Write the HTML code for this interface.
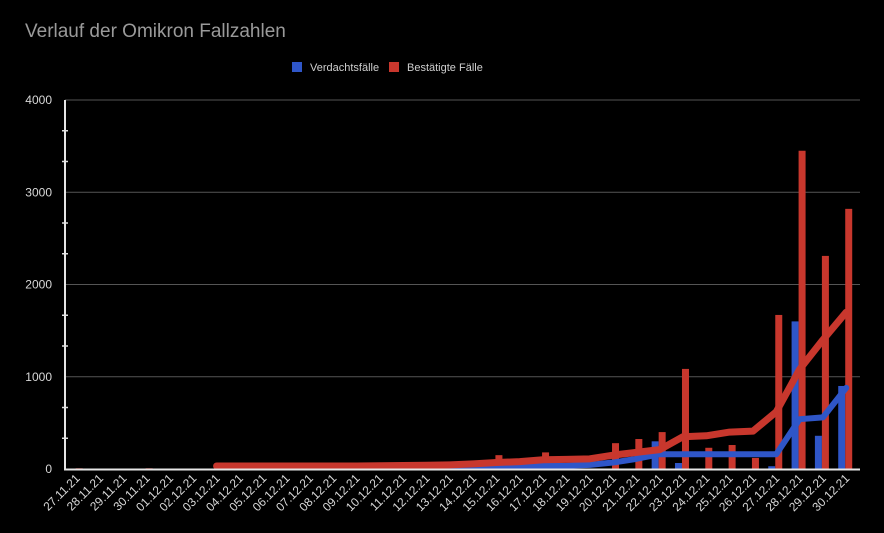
<!DOCTYPE html>
<html><head><meta charset="utf-8"><style>
html,body{margin:0;padding:0;background:#000;width:884px;height:533px;overflow:hidden}
svg text{font-family:"Liberation Sans",Arial,sans-serif}
</style></head><body>
<svg id="s" width="884" height="533" xmlns="http://www.w3.org/2000/svg">
<rect width="884" height="533" fill="#000"/>
<text x="25" y="37" font-size="19" fill="#9a9a9a">Verlauf der Omikron Fallzahlen</text>
<rect x="292" y="62" width="10" height="10" fill="#2f56c8"/>
<text x="310" y="71" font-size="11" fill="#cfcfcf">Verdachtsfälle</text>
<rect x="389" y="62" width="10" height="10" fill="#c8372d"/>
<text x="407" y="71" font-size="11" fill="#cfcfcf">Bestätigte Fälle</text>
<g id="g"></g>
</svg>
<script>
var g=document.getElementById('g'),h='';
var y0=469,k=369/4000;
function Y(v){return y0-v*k}
function C(i){return 65+23.32*(i+0.5)}
[1000,2000,3000,4000].forEach(function(v){h+='<line x1="65" x2="860" y1="'+Y(v)+'" y2="'+Y(v)+'" stroke="#555" stroke-width="1"/>';});
[0,1000,2000,3000,4000].forEach(function(v){h+='<text x="52" y="'+(Y(v)+4)+'" font-size="12" fill="#d8d8d8" text-anchor="end">'+v+'</text>';});
for(var v=0;v<4000;v+=1000){for(var j=1;j<3;j++){var yy=Y(v+j*1000/3);h+='<line x1="62" x2="68" y1="'+yy+'" y2="'+yy+'" stroke="#ddd" stroke-width="1.5"/>';}}
var red={0:8,3:8,17:90,18:150,20:180,23:280,24:325,25:400,26:1085,27:230,28:260,29:120,30:1670,31:3450,32:2310,33:2820};
var blue={25:300,26:65,30:30,31:1600,32:360,33:900};
for(var i in blue){h+='<rect x="'+(C(+i)-8)+'" y="'+Y(blue[i])+'" width="7" height="'+(blue[i]*k)+'" fill="#2f56c8"/>';}
for(var i in red){h+='<rect x="'+(C(+i)-1)+'" y="'+Y(red[i])+'" width="7" height="'+(red[i]*k)+'" fill="#c8372d"/>';}
var rl={6:25,7:25,8:25,9:25,10:28,11:30,12:32,13:35,14:38,15:40,16:45,17:55,18:70,19:80,20:100,21:105,22:110,23:150,24:180,25:210,26:350,27:360,28:400,29:410,30:620,31:1080,32:1400,33:1700};
var bl={6:0,7:0,8:0,9:0,10:0,11:0,12:0,13:0,14:0,15:2,16:5,17:10,18:15,19:25,20:30,21:35,22:45,23:70,24:110,25:160,26:160,27:160,28:160,29:160,30:160,31:540,32:560,33:880};
function pl(d,c,w){var p=[];for(var i in d)p.push(C(+i)+','+Math.min(Y(d[i]),y0-3));return '<polyline points="'+p.join(' ')+'" fill="none" stroke="'+c+'" stroke-width="'+w+'" stroke-linejoin="round" stroke-linecap="round"/>';}
h+=pl(bl,'#2f56c8',6);h+=pl(rl,'#c8372d',7);
h+='<line x1="65" x2="65" y1="100" y2="470" stroke="#e6e6e6" stroke-width="2"/>';
h+='<line x1="64" x2="860" y1="469.5" y2="469.5" stroke="#e6e6e6" stroke-width="2"/>';
var labs=['27.11.21','28.11.21','29.11.21','30.11.21'];
for(var d=1;d<=30;d++){labs.push((d<10?'0':'')+d+'.12.21');}
labs.forEach(function(s,i){var x=C(i)+4,y=479;h+='<text x="'+x+'" y="'+y+'" font-size="12" fill="#d8d8d8" text-anchor="end" transform="rotate(-45 '+x+' '+y+')">'+s+'</text>';});
g.innerHTML=h;
</script>
</body></html>
